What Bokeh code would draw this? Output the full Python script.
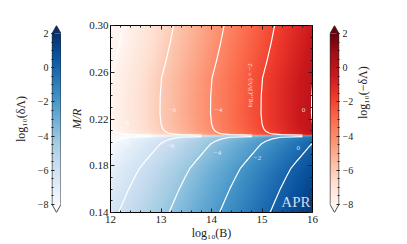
import numpy as np
from bokeh.plotting import figure
from bokeh.layouts import row
from bokeh.models import Range1d, LinearAxis, FixedTicker, LinearColorMapper, Label, CustomJSTickFormatter
from bokeh.palettes import Reds256, Blues256
from bokeh.embed import file_html
from bokeh.resources import INLINE
from bokeh.core.properties import value

# ---------------- data ----------------
logB_lim = [12, 16]
mr_lim = [0.14, 0.30]
mr_boundary = 0.2056
mr_red = [0.2062, 0.2066, 0.2072, 0.2080, 0.2095, 0.2120, 0.2160, 0.2250, 0.2400, 0.2550, 0.2700, 0.2850, 0.3000]
g_red = [-33.60, -32.75, -32.40, -32.28, -32.15, -32.06, -32.00, -31.96, -31.97, -32.02, -32.20, -32.36, -32.50]
mr_blue = [0.1400, 0.1500, 0.1600, 0.1700, 0.1780, 0.1845, 0.1920, 0.1960, 0.1988, 0.2010, 0.2030, 0.2044, 0.2050]
g_blue = [-30.32, -30.52, -30.72, -30.95, -31.15, -31.40, -31.70, -31.85, -31.98, -32.15, -32.40, -32.75, -33.60]
levels = [-8, -6, -4, -2, 0]

red_lab_text = ["\u22128", "\u22126", "\u22124", "0"]
red_lab_x = [12.30, 13.23, 14.14, 15.82]
red_lab_y = [0.217, 0.228, 0.228, 0.228]
blue_lab_text = ["\u22128", "\u22126", "\u22124", "\u22122", "0"]
blue_lab_x = [12.30, 13.19, 14.12, 14.91, 15.72]
blue_lab_y = [0.199, 0.197, 0.191, 0.187, 0.195]

x_ticks = [12, 13, 14, 15, 16]
y_ticks = [0.14, 0.18, 0.22, 0.26, 0.30]
cbar_ticks = [-8, -6, -4, -2, 0, 2]
cbar_lim = [-8, 2]

FONT = "Liberation Serif"
H = 244
blues = list(reversed(Blues256))
reds = list(reversed(Reds256))

minus_fmt = CustomJSTickFormatter(code="return (tick < 0 ? '\\u2212' : '') + Math.abs(tick).toFixed(0);")


def style_ticks(ax, tick_in=4, minor_in=2):
    ax.major_tick_in = tick_in
    ax.major_tick_out = 0
    ax.minor_tick_in = minor_in
    ax.minor_tick_out = 0
    ax.major_tick_line_color = "#222222"
    ax.minor_tick_line_color = "#222222"
    ax.major_label_text_font = FONT
    ax.major_label_text_color = "#222222"
    ax.axis_label_text_font = FONT
    ax.axis_label_text_font_style = "normal"
    ax.axis_label_text_color = "#222222"


def colorbar_fig(palette, side, label, width, bl, br):
    lo, hi = cbar_lim
    ext = 0.47
    p = figure(width=width, height=H, output_backend="svg", toolbar_location=None,
               x_range=Range1d(-0.06, 1.06), y_range=Range1d(lo - ext, hi + ext),
               x_axis_location=None, y_axis_location=side,
               min_border_left=bl, min_border_right=br, min_border_top=24, min_border_bottom=32)
    p.grid.visible = False
    p.outline_line_color = None
    grad = np.linspace(lo, hi, 256).reshape(-1, 1)
    mapper = LinearColorMapper(palette=palette, low=lo, high=hi)
    p.image(image=[grad], x=0, y=lo, dw=1, dh=hi - lo, color_mapper=mapper)
    p.patch([0, 0.5, 1], [hi, hi + ext, hi], fill_color=palette[-1], line_color=None)
    p.patch([0, 0.5, 1], [lo, lo - ext, lo], fill_color=palette[0], line_color=None)
    p.line([0, 0.5, 1, 1, 0.5, 0, 0], [hi, hi + ext, hi, lo, lo - ext, lo, hi],
           line_color="#222222", line_width=0.8)
    ax = p.yaxis[0]
    ax.ticker = FixedTicker(ticks=cbar_ticks, minor_ticks=list(np.arange(lo, hi + 0.01, 0.5)))
    ax.formatter = minus_fmt
    ax.axis_line_color = None
    style_ticks(ax, 3, 2)
    ax.major_label_text_font_size = "10px"
    ax.major_label_standoff = 3
    ax.axis_label = label
    ax.axis_label_text_font_size = "12px"
    ax.axis_label_standoff = 7
    return p


left_cb = colorbar_fig(blues, "left", "log\u2081\u2080(\u03b4\u039b)", 61, 51, 0)
right_cb = colorbar_fig(reds, "right", "log\u2081\u2080(\u2212\u03b4\u039b)", 79, 9, 60)
right_cb.yaxis[0].axis_label_orientation = np.pi / 2

# ---------------- main panel ----------------
p = figure(width=259, height=H, output_backend="svg", toolbar_location=None,
           x_range=Range1d(*logB_lim), y_range=Range1d(*mr_lim),
           min_border_left=49, min_border_right=8, min_border_top=25, min_border_bottom=32)
p.grid.visible = False
p.outline_line_color = "#111111"
p.outline_line_width = 1

nx = 404
xg = np.linspace(logB_lim[0], logB_lim[1], nx)
yr = np.linspace(mr_boundary, mr_lim[1], 190)
yb = np.linspace(mr_lim[0], mr_boundary, 130)
field_red = 2 * xg[None, :] + np.interp(yr, mr_red, g_red)[:, None]
field_blue = 2 * xg[None, :] + np.interp(yb, mr_blue, g_blue)[:, None]
p.image(image=[field_red.astype(np.float32)], x=logB_lim[0], y=mr_boundary,
        dw=logB_lim[1] - logB_lim[0], dh=mr_lim[1] - mr_boundary,
        color_mapper=LinearColorMapper(palette=reds, low=cbar_lim[0], high=cbar_lim[1]))
p.image(image=[field_blue.astype(np.float32)], x=logB_lim[0], y=mr_lim[0],
        dw=logB_lim[1] - logB_lim[0], dh=mr_boundary - mr_lim[0],
        color_mapper=LinearColorMapper(palette=blues, low=cbar_lim[0], high=cbar_lim[1]))

gr = np.array(g_red)
gb = np.array(g_blue)
p.multi_line(xs=[list((L - gr) / 2) for L in levels], ys=[mr_red] * len(levels),
             line_color="white", line_width=1.2)
p.multi_line(xs=[list((L - gb) / 2) for L in levels], ys=[mr_blue] * len(levels),
             line_color="white", line_width=1.2)

p.text(x=red_lab_x, y=red_lab_y, text=red_lab_text, text_color="white", text_alpha=0.8,
       text_font=value(FONT), text_font_size="7px", text_align="center", text_baseline="middle")
p.text(x=blue_lab_x, y=blue_lab_y, text=blue_lab_text, text_color="white", text_alpha=0.8,
       text_font=value(FONT), text_font_size="7px", text_align="center", text_baseline="middle")
p.add_layout(Label(x=14.77, y=0.2487, text="log\u2081\u2080(|\u03b4\u039b|) = \u22122", angle=np.pi / 2,
                   text_color="white", text_alpha=0.8, text_font=FONT, text_font_size="7px",
                   text_align="center", text_baseline="middle"))
p.add_layout(Label(x=15.96, y=0.1425, text="APR", text_color="#d0dcee", text_font=FONT,
                   text_font_size="15px", text_align="right", text_baseline="bottom"))

xt = FixedTicker(ticks=x_ticks, minor_ticks=list(np.arange(12, 16.01, 0.2)))
yt = FixedTicker(ticks=y_ticks, minor_ticks=list(np.arange(0.14, 0.3001, 0.01)))
p.add_layout(LinearAxis(ticker=xt, formatter=CustomJSTickFormatter(code="return '';"),
                        major_label_standoff=0), "above")
p.add_layout(LinearAxis(ticker=yt, formatter=CustomJSTickFormatter(code="return '';"),
                        major_label_standoff=0), "right")
for ax in p.xaxis:
    ax.ticker = xt
    style_ticks(ax)
for ax in p.yaxis:
    ax.ticker = yt
    style_ticks(ax)
bx = p.below[0]
bx.formatter = CustomJSTickFormatter(code="return tick.toFixed(0);")
bx.major_label_text_font_size = "11px"
bx.major_label_standoff = 3
bx.axis_label = "log\u2081\u2080(B)"
bx.axis_label_text_font_size = "12px"
bx.axis_label_standoff = 0
ly = p.left[0]
ly.formatter = CustomJSTickFormatter(code="return tick.toFixed(2);")
ly.major_label_text_font_size = "11px"
ly.major_label_standoff = 2
ly.axis_label = "M/R"
ly.axis_label_text_font_size = "12px"
ly.axis_label_text_font_style = "italic"
ly.axis_label_standoff = 2

layout = row(left_cb, p, right_cb)
open("out.html", "w").write(file_html(layout, INLINE))
